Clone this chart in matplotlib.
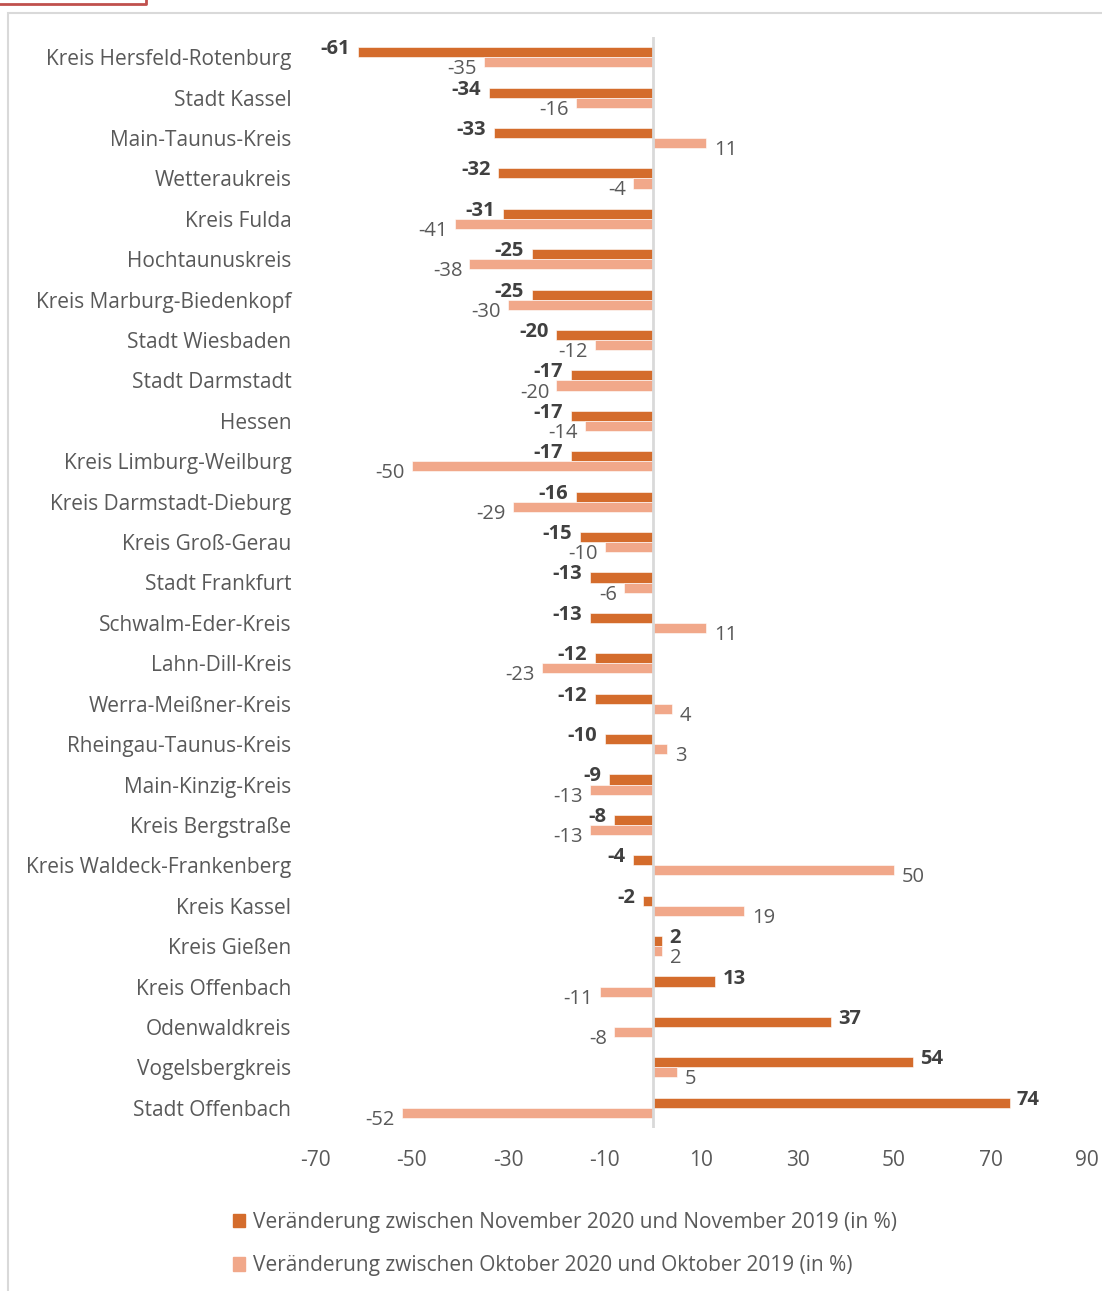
import matplotlib.pyplot as plt
from matplotlib.patches import Patch, Rectangle
from matplotlib.lines import Line2D

# Data
categories = [
    'Kreis Hersfeld-Rotenburg', 'Stadt Kassel', 'Main-Taunus-Kreis', 'Wetteraukreis',
    'Kreis Fulda', 'Hochtaunuskreis', 'Kreis Marburg-Biedenkopf', 'Stadt Wiesbaden',
    'Stadt Darmstadt', 'Hessen', 'Kreis Limburg-Weilburg', 'Kreis Darmstadt-Dieburg',
    'Kreis Groß-Gerau', 'Stadt Frankfurt', 'Schwalm-Eder-Kreis', 'Lahn-Dill-Kreis',
    'Werra-Meißner-Kreis', 'Rheingau-Taunus-Kreis', 'Main-Kinzig-Kreis', 'Kreis Bergstraße',
    'Kreis Waldeck-Frankenberg', 'Kreis Kassel', 'Kreis Gießen', 'Kreis Offenbach',
    'Odenwaldkreis', 'Vogelsbergkreis', 'Stadt Offenbach',
]
nov = [-61, -34, -33, -32, -31, -25, -25, -20, -17, -17, -17, -16, -15, -13, -13,
       -12, -12, -10, -9, -8, -4, -2, 2, 13, 37, 54, 74]
okt = [-35, -16, 11, -4, -41, -38, -30, -12, -20, -14, -50, -29, -10, -6, 11,
       -23, 4, 3, -13, -13, 50, 19, 2, -11, -8, 5, -52]
xticks = [-70, -50, -30, -10, 10, 30, 50, 70, 90]
label_nov = 'Veränderung zwischen November 2020 und November 2019 (in %)'
label_okt = 'Veränderung zwischen Oktober 2020 und Oktober 2019 (in %)'

c_nov = '#D46C2C'
c_okt = '#F1A88A'
grey = '#595959'
fs = 15
plt.rcParams['font.family'] = ['Open Sans', 'DejaVu Sans']

W, H = 1102, 1291
fig = plt.figure(figsize=(W / 100, H / 100), dpi=100)
ax = fig.add_axes([315 / W, 1 - 1128 / H, (1087 - 315) / W, (1128 - 37) / H])

ys = list(range(len(categories)))
bh = 0.25
ax.barh([y - bh / 2 for y in ys], nov, height=bh, color=c_nov, edgecolor='white', linewidth=0.4)
ax.barh([y + bh / 2 for y in ys], okt, height=bh, color=c_okt, edgecolor='white', linewidth=0.4)

# Data labels
for y, v in zip(ys, nov):
    off = 7 if v > 0 else -8
    ax.annotate(f'{v}', (v, y - bh / 2), xytext=(off, 3), textcoords='offset pixels',
                ha='left' if v > 0 else 'right', va='center', fontsize=14.5,
                fontweight='bold', color='#404040')
for y, v in zip(ys, okt):
    off = 8 if v > 0 else -7
    ax.annotate(f'{v}', (v, y + bh / 2), xytext=(off, -7), textcoords='offset pixels',
                ha='left' if v > 0 else 'right', va='center', fontsize=14.5, color=grey)

ax.axvline(0, color='#D9D9D9', linewidth=2, zorder=3)
ax.set_xlim(-70, 90)
ax.set_ylim(len(categories) - 0.5, -0.5)
ax.set_yticks(ys)
ax.set_yticklabels(categories, fontsize=fs, color=grey)
ax.set_xticks(xticks)
ax.set_xticklabels([str(t) for t in xticks], fontsize=fs, color=grey)
ax.tick_params(length=0)
ax.tick_params(axis='y', pad=17)
ax.tick_params(axis='x', pad=16)
for s in ax.spines.values():
    s.set_visible(False)

# Legend
handles = [Patch(color=c_nov), Patch(color=c_okt)]
fig.legend(handles, [label_nov, label_okt], loc='center left',
           bbox_to_anchor=(214 / W, 1 - 1244 / H), frameon=False, fontsize=fs,
           labelcolor=grey, handlelength=0.6, handleheight=0.6, handletextpad=0.35,
           labelspacing=1.1)

# Chart frame (partly cropped) and the red mark at top left
fig.patches.append(Rectangle((8 / W, -0.1), 1.2, 1 - 13 / H + 0.1, transform=fig.transFigure,
                             fill=False, edgecolor='#D9D9D9', linewidth=1.5))
fig.lines.append(Line2D([0, 146 / W, 146 / W], [1 - 4 / H, 1 - 4 / H, 1], transform=fig.transFigure,
                        color='#C0504D', linewidth=2))

fig.savefig('out.png', dpi=100)
